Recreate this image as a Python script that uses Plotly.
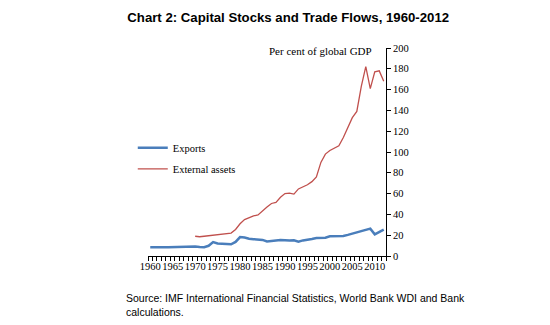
import plotly.graph_objects as go

# Exports, per cent of global GDP, 1960-2012
export_years = list(range(1960, 2013))
exports = [8.5, 8.3, 8.3, 8.3, 8.5, 8.6, 9.0, 8.5, 8.6, 9.0,
           9.2, 8.6, 8.5, 9.8, 13.4, 12.0, 11.8, 11.4, 11.3, 13.5,
           18.2, 17.8, 16.6, 16.2, 16.0, 15.5, 14.0, 14.6, 15.2, 15.3,
           15.2, 14.8, 15.2, 13.8, 15.0, 16.0, 16.3, 17.2, 17.4, 17.6,
           18.9, 18.8, 19.0, 19.2, 20.3, 21.5, 23.0, 24.0, 24.8, 26.3,
           20.8, 23.4, 25.3]

# External assets, per cent of global GDP, 1970-2012
asset_years = list(range(1970, 2013))
external_assets = [19.0, 18.5, 19.0, 19.5, 20.0, 20.5, 20.5, 20.8, 22.0, 25.5,
                   31.0, 35.0, 37.0, 38.5, 39.5, 43.5, 47.0, 50.5, 51.5, 56.5,
                   60.0, 60.5, 59.5, 64.5, 66.5, 68.5, 71.5, 76.0, 90.0, 98.0,
                   101.5, 103.5, 106.0, 114.0, 124.0, 133.0, 139.0, 163.0, 182.0, 161.0,
                   177.0, 178.0, 168.0]

label_years = list(range(1960, 2011, 5))
year_edges = [y - 0.5 for y in range(1960, 2014)]
y_ticks = list(range(0, 201, 20))

serif = "Liberation Serif, Times New Roman, serif"
sans = "Liberation Sans, Arial, sans-serif"

fig = go.Figure()
fig.add_trace(go.Scatter(x=export_years, y=exports, mode="lines", name="Exports",
                         legendgroup="exports",
                         line=dict(color="#4a7ebb", width=2.5)))
fig.add_trace(go.Scatter(x=asset_years, y=external_assets, mode="lines",
                         name="External assets", legendgroup="assets",
                         line=dict(color="#c0504d", width=1.3)))

fig.update_layout(
    width=550, height=325,
    margin=dict(l=148, r=164, t=48, b=69),
    paper_bgcolor="white", plot_bgcolor="white",
    font=dict(family=serif, size=10.5, color="black"),
    title=dict(text="<b>Chart 2: Capital Stocks and Trade Flows, 1960-2012</b>",
               font=dict(family=sans, size=13.2, color="black"),
               x=0.524, xanchor="center", y=0.948, yanchor="middle"),
    showlegend=True,
    legend=dict(x=-0.064, y=0.59, xanchor="left", yanchor="top",
                bgcolor="rgba(0,0,0,0)", font=dict(family=serif, size=10.5),
                traceorder="grouped", tracegroupgap=2, itemwidth=30),
    xaxis=dict(range=[1959.5, 2012.5], showgrid=False, zeroline=False,
               showline=True, linecolor="black", linewidth=1,
               tickvals=label_years, ticktext=[str(y) for y in label_years],
               ticks="", tickangle=0, tickfont=dict(family=serif, size=10.5),
               minor=dict(tickvals=year_edges, ticks="outside", ticklen=4,
                          tickcolor="black", showgrid=False)),
    yaxis=dict(range=[0, 200], side="right", showgrid=False, zeroline=False,
               showline=True, linecolor="black", linewidth=1,
               tickvals=y_ticks, ticks="outside", ticklen=4, tickcolor="black",
               tickfont=dict(family=serif, size=10.5)),
)

fig.add_annotation(text="Per cent of global GDP", xref="paper", yref="paper",
                   x=0.723, y=0.986, xanchor="center", yanchor="middle",
                   showarrow=False, font=dict(family=serif, size=11))

fig.add_annotation(text="Source: IMF International Financial Statistics, World Bank WDI and Bank<br>calculations.",
                   xref="paper", yref="paper", x=-0.1, y=-0.165,
                   xanchor="left", yanchor="top", align="left", showarrow=False,
                   font=dict(family=sans, size=10.5))

fig.write_html("out.html")
